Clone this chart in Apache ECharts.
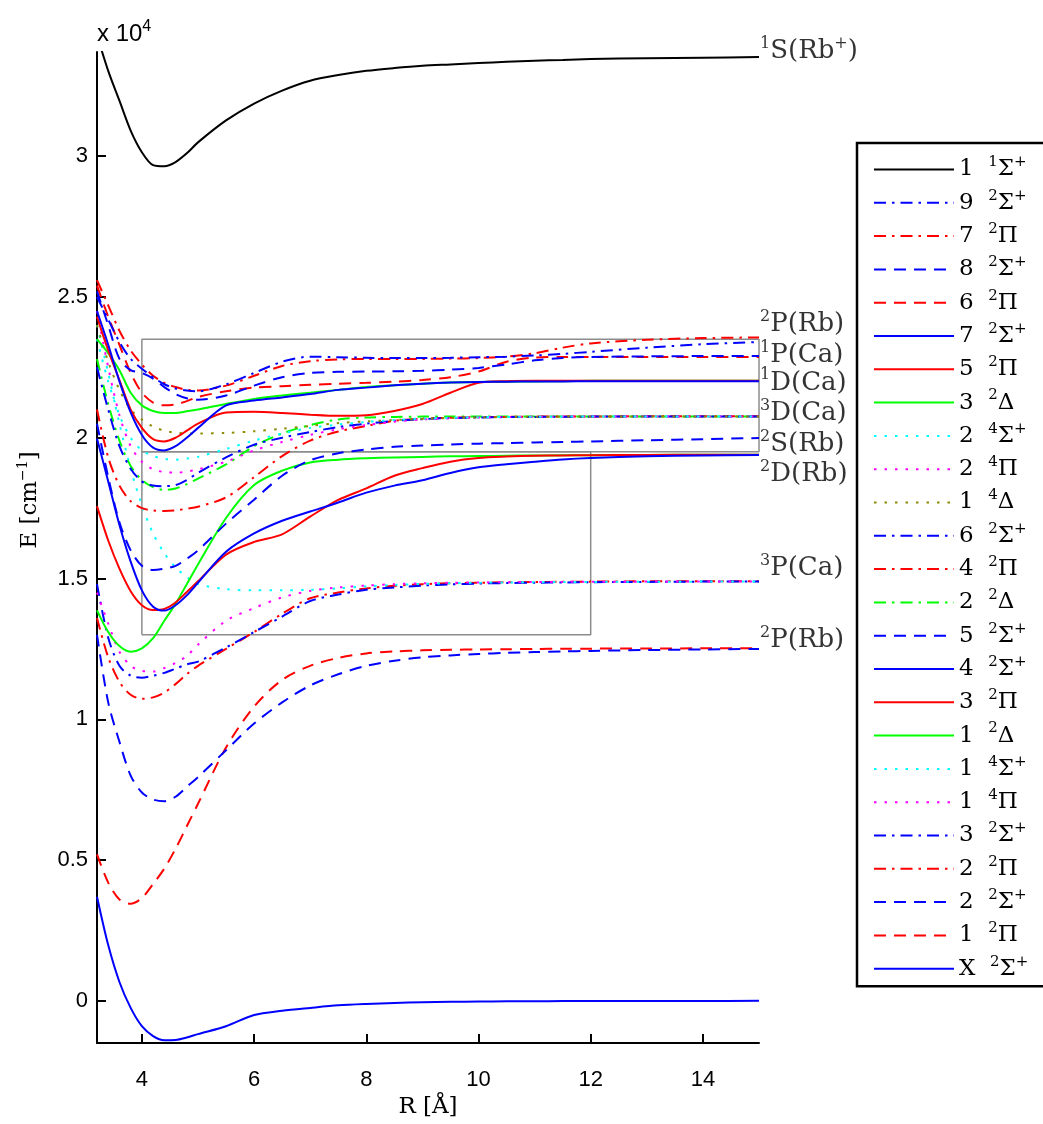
<!DOCTYPE html>
<html><head><meta charset="utf-8">
<script src="https://cdn.jsdelivr.net/npm/echarts@6/dist/echarts.min.js"></script>
<style>html,body{margin:0;padding:0;background:#fff}#c{width:1043px;height:1124px}</style>
</head><body><div id="c"></div>
<script>
// ---- data ----
const R = [3.2,3.4,3.6,3.8,4.0,4.2,4.4,4.6,4.8,5.0,5.5,6,6.5,7,7.5,8,8.5,9,9.5,10,10.5,11,11.5,12,13,14,15];
const S1_1 = [34300,33030,31970,30910,30140,29680,29640,29790,30100,30490,31270,31870,32330,32680,32880,33030,33130,33210,33260,33310,33350,33390,33420,33450,33480,33500,33520];
const S2_9 = [25000,24200,23400,22800,22450,22150,21900,21750,21680,21650,21900,22300,22700,22880,22860,22840,22830,22830,22840,22860,22880,22920,22980,23050,23200,23320,23400];
const P2_7 = [25600,24700,23800,23100,22600,22200,21950,21800,21700,21680,21850,22200,22550,22720,22780,22800,22800,22800,22810,22830,22880,23000,23200,23350,23480,23540,23560];
const S2_8 = [25200,24000,22800,22400,22300,22100,21800,21550,21400,21350,21500,21850,22150,22300,22340,22350,22360,22380,22420,22480,22600,22750,22830,22870,22890,22900,22900];
const P2_6 = [25400,24300,23300,22300,21600,21250,21150,21180,21300,21450,21650,21780,21830,21880,21920,21950,21990,22050,22150,22350,22700,22850,22870,22870,22870,22870,22870];
const S2_7 = [24500,23300,22000,20900,20100,19650,19550,19700,20000,20350,21150,21320,21430,21550,21700,21780,21860,21920,21960,21980,21990,22000,22000,22010,22010,22010,22010];
const P2_5 = [24300,23100,22050,21000,20350,19950,19870,20000,20250,20500,20900,20920,20880,20820,20780,20800,20950,21200,21600,21950,22010,22020,22020,22020,22020,22020,22020];
const D2_3 = [23500,23000,22400,21600,21150,20950,20880,20880,20940,21000,21200,21380,21500,21600,21700,21800,21860,21920,21960,21980,21990,22000,22010,22020,22020,22020,22020];
const S4_2 = [23500,22000,20800,20000,19550,19350,19250,19220,19260,19320,19600,19900,20150,20350,20470,20560,20630,20680,20710,20730,20740,20745,20750,20750,20750,20750,20750];
const P4_2 = [24500,22500,20800,19700,19150,18880,18780,18760,18800,18880,19150,19550,19850,20100,20300,20450,20570,20650,20690,20720,20735,20745,20750,20750,20750,20750,20750];
const D4_1 = [24000,22700,21700,21000,20650,20400,20250,20180,20150,20150,20170,20230,20320,20420,20520,20580,20630,20670,20700,20720,20735,20745,20750,20750,20750,20750,20750];
const S2_6 = [22500,21000,19700,18900,18450,18300,18280,18320,18500,18750,19300,19750,20000,20200,20380,20500,20600,20660,20700,20720,20735,20740,20745,20750,20750,20750,20750];
const P2_4 = [21000,19300,18300,17750,17500,17420,17400,17420,17480,17550,17880,18600,19350,19900,20220,20420,20600,20680,20710,20730,20740,20750,20750,20755,20760,20760,20760];
const D2_2 = [22800,21200,19900,19000,18500,18250,18150,18200,18350,18550,19050,19700,20150,20450,20650,20720,20740,20750,20750,20750,20750,20750,20750,20750,20750,20750,20750];
const S2_5 = [20500,18600,17000,16000,15450,15300,15350,15450,15700,16000,16950,17800,18650,19200,19450,19580,19680,19720,19760,19790,19810,19830,19850,19870,19910,19950,19990];
const S2_4 = [19970,18450,16900,15600,14580,14000,13860,14050,14400,14850,15950,16600,17050,17380,17700,18050,18300,18490,18750,18950,19060,19150,19230,19280,19340,19370,19390];
const P2_3 = [17570,16350,15350,14550,14050,13880,13920,14150,14520,14900,15850,16300,16570,17200,17790,18200,18650,18920,19150,19280,19330,19360,19370,19380,19390,19400,19400];
const D2_1 = [13870,13100,12600,12400,12520,12880,13500,14100,14800,15500,17150,18320,18830,19120,19220,19270,19300,19320,19340,19350,19360,19370,19375,19380,19390,19400,19400];
const S4_1 = [24000,22300,20500,18900,17600,16600,15900,15400,15050,14800,14620,14580,14580,14600,14650,14720,14770,14810,14830,14850,14860,14870,14875,14880,14885,14890,14890];
const P4_1 = [14500,13400,12400,11900,11720,11700,11820,12000,12250,12650,13500,13950,14330,14560,14680,14750,14800,14830,14850,14860,14870,14875,14880,14885,14890,14890,14890];
const S2_3 = [14800,12900,11900,11550,11480,11550,11650,11800,11950,12050,12550,13100,13650,14200,14430,14600,14680,14750,14790,14820,14840,14850,14860,14870,14880,14890,14890];
const P2_2 = [13600,12200,11330,10870,10730,10780,10950,11250,11600,11900,12500,13100,13750,14300,14500,14650,14740,14800,14830,14850,14865,14875,14885,14890,14900,14900,14900];
const S2_2 = [13000,10600,9200,8000,7400,7150,7090,7250,7600,7950,8900,9850,10600,11200,11600,11900,12080,12200,12270,12320,12360,12390,12410,12430,12460,12480,12500];
const P2_1 = [5200,4200,3600,3450,3650,4150,4700,5400,6200,7000,9000,10450,11400,11900,12180,12340,12410,12450,12470,12480,12490,12500,12505,12510,12515,12520,12520];
const X2S  = [3700,1980,670,-250,-900,-1250,-1400,-1390,-1300,-1180,-900,-500,-350,-250,-160,-110,-75,-50,-35,-25,-18,-12,-8,-5,-2,-1,0];

// legend order (top to bottom) and matching value arrays
const stateNames = ['1 1Σ+','9 2Σ+','7 2Π','8 2Σ+','6 2Π','7 2Σ+','5 2Π','3 2Δ','2 4Σ+','2 4Π','1 4Δ','6 2Σ+','4 2Π','2 2Δ','5 2Σ+','4 2Σ+','3 2Π','1 2Δ','1 4Σ+','1 4Π','3 2Σ+','2 2Π','2 2Σ+','1 2Π','X 2Σ+'];
const stateValues = [S1_1,S2_9,P2_7,S2_8,P2_6,S2_7,P2_5,D2_3,S4_2,P4_2,D4_1,S2_6,P2_4,D2_2,S2_5,S2_4,P2_3,D2_1,S4_1,P4_1,S2_3,P2_2,S2_2,P2_1,X2S];

// asymptote labels
const asymLabels = ['{sup|1}S(Rb{sup|+})','{sup|2}P(Rb)','{sup|1}P(Ca)','{sup|1}D(Ca)','{sup|3}D(Ca)','{sup|2}S(Rb)','{sup|2}D(Rb)','{sup|3}P(Ca)','{sup|2}P(Rb)'];
const asymE = [33730,24030,22940,21950,20860,19760,18700,15350,12810];

// zoom boxes (data units)
const box1 = [[4,19500],[15,19500],[15,23500],[4,23500],[4,19500]];
const box2 = [[4,13000],[12,13000],[12,19500],[4,19500],[4,13000]];

const xTicks = [4,6,8,10,12,14];
const yTicks = [0,5000,10000,15000,20000,25000,30000];

// ---- styles ----
const colorOf = {'1 1Σ+':'#000000','9 2Σ+':'#0000ff','7 2Π':'#ff0000','8 2Σ+':'#0000ff','6 2Π':'#ff0000','7 2Σ+':'#0000ff','5 2Π':'#ff0000','3 2Δ':'#00ff00','2 4Σ+':'#00ffff','2 4Π':'#ff00ff','1 4Δ':'#8c8c00','6 2Σ+':'#0000ff','4 2Π':'#ff0000','2 2Δ':'#00ff00','5 2Σ+':'#0000ff','4 2Σ+':'#0000ff','3 2Π':'#ff0000','1 2Δ':'#00ff00','1 4Σ+':'#00ffff','1 4Π':'#ff00ff','3 2Σ+':'#0000ff','2 2Π':'#ff0000','2 2Σ+':'#0000ff','1 2Π':'#ff0000','X 2Σ+':'#0000ff'};
const DASH=[12,8], DOT=[2.5,8], DD=[12,6,2.5,6];
const dashOf = {'1 1Σ+':'solid','9 2Σ+':DD,'7 2Π':DD,'8 2Σ+':DASH,'6 2Π':DASH,'7 2Σ+':'solid','5 2Π':'solid','3 2Δ':'solid','2 4Σ+':DOT,'2 4Π':DOT,'1 4Δ':DOT,'6 2Σ+':DD,'4 2Π':DD,'2 2Δ':DD,'5 2Σ+':DASH,'4 2Σ+':'solid','3 2Π':'solid','1 2Δ':'solid','1 4Σ+':DOT,'1 4Π':DOT,'3 2Σ+':DD,'2 2Π':DD,'2 2Σ+':DASH,'1 2Π':DASH,'X 2Σ+':'solid'};

const SERIF = 'DejaVu Serif';
const SANS = 'Liberation Sans';

function legendRich(name){
  const m = name.match(/^(\S+) (\d)(Σ|Π|Δ)(\+?)$/);
  return m[1] + '  {sup|' + m[2] + '}' + m[3] + (m[4] ? '{sup|+}' : '');
}

const series = [];
for (let k = stateNames.length - 1; k >= 0; k--) {
  const nm = stateNames[k];
  const vals = stateValues[k];
  series.push({
    type:'line', name:nm, data:R.map((r,i)=>[r, vals[i]]),
    symbol:'none', smooth:0.3, silent:true, animation:false,
    lineStyle:{color:colorOf[nm], width:2, type:dashOf[nm], cap:'butt'},
    itemStyle:{color:colorOf[nm]}
  });
}
[box1, box2].forEach((b,i)=>series.push({
  type:'line', name:'box'+i, data:b, symbol:'none', silent:true, animation:false, z:1,
  lineStyle:{color:'#8c8c8c', width:1.5}
}));
series.push({
  type:'scatter', name:'labels', silent:true, animation:false, clip:false, symbolSize:0,
  data: asymE.map((e,i)=>({value:[15,e], name:asymLabels[i]})),
  label:{show:true, position:'right', distance:1, formatter:p=>p.name,
    fontFamily:SERIF, fontSize:26, color:'#000', lineHeight:30,
    rich:{sup:{fontFamily:SERIF, fontSize:16, lineHeight:30, padding:[0,0,15,0], color:'#000'}}}
});

const chart = echarts.init(document.getElementById('c'), null, {renderer:'canvas'});
chart.setOption({
  animation:false,
  backgroundColor:'#fff',
  grid:{left:97, right:284, top:52, bottom:76, containLabel:false},
  xAxis:{type:'value', min:3.2, max:15,
    name:'R [Å]', nameLocation:'middle', nameGap:50,
    nameTextStyle:{fontFamily:SERIF, fontSize:23, color:'#000'},
    axisLine:{onZero:false, lineStyle:{color:'#000', width:2}},
    axisTick:{inside:true, length:9, customValues:xTicks, lineStyle:{color:'#000', width:2}},
    axisLabel:{customValues:xTicks, fontFamily:SANS, fontSize:22, color:'#000', margin:26},
    splitLine:{show:false}},
  yAxis:{type:'value', min:-1500, max:33700,
    axisLine:{show:true, onZero:false, lineStyle:{color:'#000', width:2}},
    axisTick:{show:true, inside:true, length:9, customValues:yTicks, lineStyle:{color:'#000', width:2}},
    axisLabel:{customValues:yTicks, fontFamily:SANS, fontSize:22, color:'#000', margin:9,
      formatter:v=>String(v/1e4)},
    splitLine:{show:false}},
  legend:{
    data:stateNames, orient:'vertical', left:857, top:143,
    padding:[12,80,3,16], itemWidth:80, itemHeight:14, itemGap:4.3,
    borderColor:'#000', borderWidth:2.5, backgroundColor:'#fff', selectedMode:false,
    itemStyle:{opacity:0, borderWidth:0},
    textStyle:{fontFamily:SERIF, fontSize:23, color:'#000', lineHeight:26,
      rich:{sup:{fontFamily:SERIF, fontSize:15, lineHeight:26, padding:[0,0,14,0], color:'#000'}}},
    formatter:legendRich
  },
  graphic:[
    {type:'text', x:30, y:500, rotation:Math.PI/2,
     style:{text:'E [cm{sup|−1}]', fontFamily:SERIF, fontSize:23, fill:'#000', align:'center', verticalAlign:'middle',
       rich:{sup:{fontFamily:SERIF, fontSize:14, padding:[0,0,14,0], fill:'#000'}}}},
    {type:'text', x:97, y:19,
     style:{text:'x 10{sup|4}', fontFamily:SANS, fontSize:24, fill:'#000', align:'left', verticalAlign:'top',
       rich:{sup:{fontFamily:SANS, fontSize:16, padding:[0,0,14,0], fill:'#000'}}}}
  ],
  series:series
});
</script></body></html>
